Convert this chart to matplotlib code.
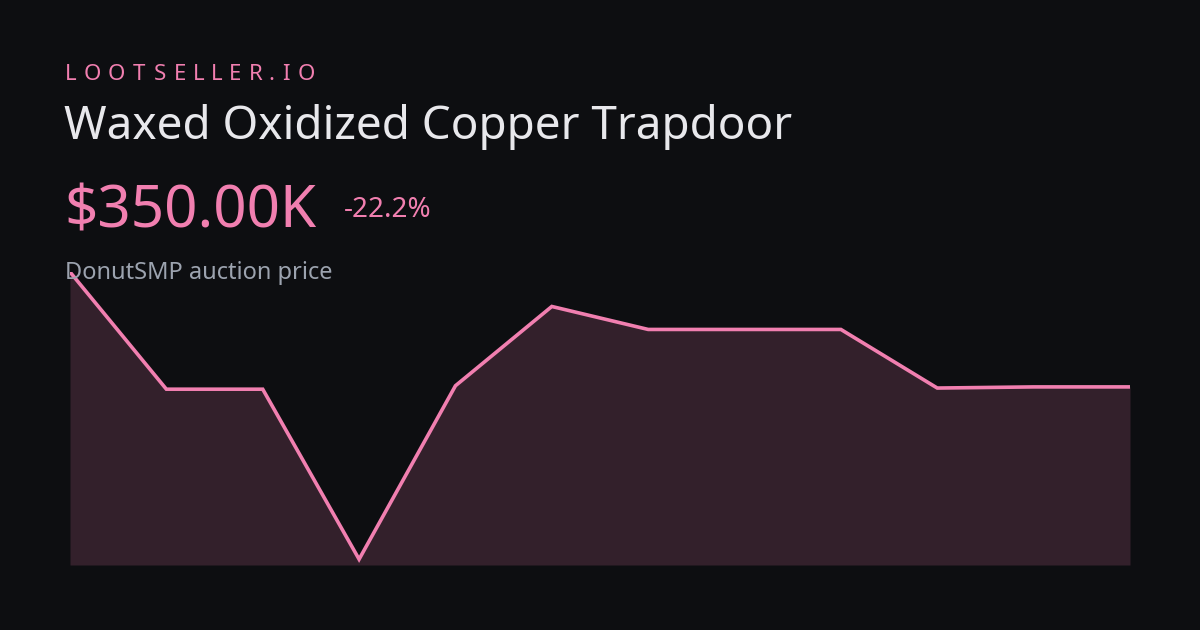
import matplotlib
matplotlib.use("Agg")
import matplotlib.pyplot as plt
from matplotlib.textpath import TextPath
from matplotlib.font_manager import FontProperties

values = [450, 348, 348, 200, 351, 420, 400, 400, 400, 349, 350, 350]
brand = "LOOTSELLER.IO"
title = "Waxed Oxidized Copper Trapdoor"
price = "$350.00K"
change = "-22.2%"
subtitle = "DonutSMP auction price"

BG = "#0d0e11"; PINK = "#f17fb0"
plt.rcParams['font.family'] = ['Noto Sans', 'DejaVu Sans']
fig = plt.figure(figsize=(12, 6.3), dpi=100, facecolor=BG)
ax = fig.add_axes([70/1200, 65/630, 1060/1200, 293/630])
ax.set_facecolor(BG)
x = list(range(len(values)))
ax.fill_between(x, values, 195, color="#33202b", lw=0)
ax.plot(x, values, color=PINK, lw=2.6, solid_joinstyle='miter')
ax.set_xlim(0, len(values)-1); ax.set_ylim(195, 450)
ax.axis('off')

# letter-spaced brand
fp = FontProperties(family='Noto Sans', size=16)
px = 65
for ch in brand:
    fig.text(px/1200, 1-80/630, ch, color=PINK, fontproperties=fp, va='baseline')
    w = TextPath((0, 0), ch, prop=fp).get_extents().width if ch.strip() else 8
    adv = TextPath((0, 0), ch + "|", prop=fp).get_extents().width - TextPath((0, 0), "|", prop=fp).get_extents().width
    px += adv * 100/72 + 3.5
fig.text(64/1200, 1-139/630, title, color="#e8e8ec", fontsize=33, va='baseline')
fig.text(64/1200, 1-227/630, price, color=PINK, fontsize=42, va='baseline')
fig.text(344/1200, 1-217/630, change, color=PINK, fontsize=20, va='baseline')
fig.text(65/1200, 1-279/630, subtitle, color="#9ca3af", fontsize=17, va='baseline')
fig.savefig("out.png", facecolor=BG)
